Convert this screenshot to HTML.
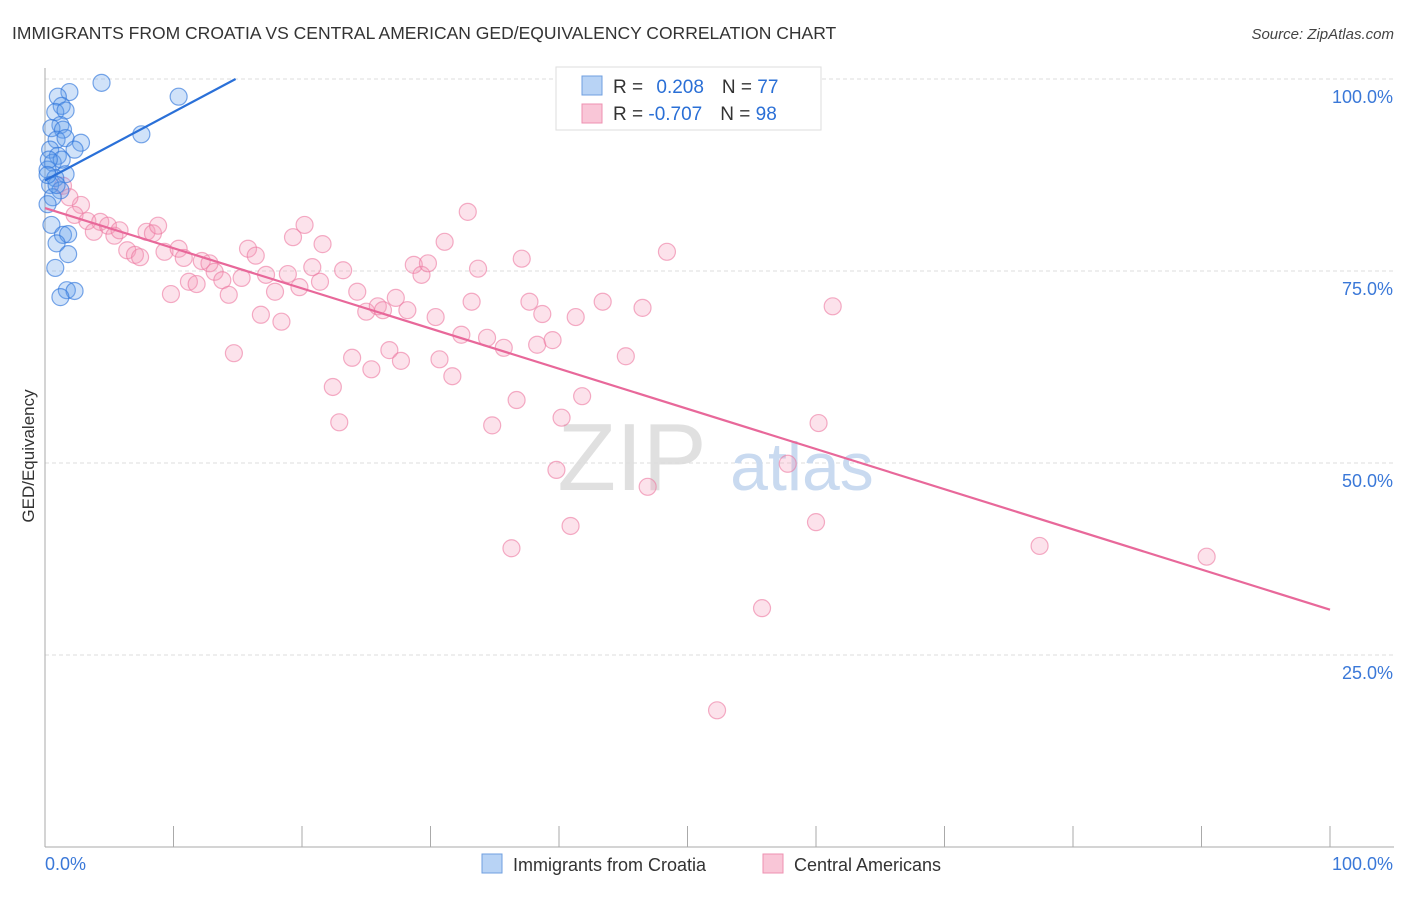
<!DOCTYPE html>
<html><head><meta charset="utf-8"><style>
body{margin:0;background:#fff;font-family:"Liberation Sans",sans-serif;}
svg text{font-family:"Liberation Sans",sans-serif;}
</style></head><body>
<svg id="chart" width="1406" height="892" xmlns="http://www.w3.org/2000/svg">
<text x="12" y="39" font-size="17.5" fill="#333">IMMIGRANTS FROM CROATIA VS CENTRAL AMERICAN GED/EQUIVALENCY CORRELATION CHART</text>
<text x="1394" y="39" font-size="15" fill="#444" font-style="italic" text-anchor="end">Source: ZipAtlas.com</text>
<g id="grid"></g>
<g>
<text x="632" y="490" font-size="96" fill="#ddd" text-anchor="middle" font-family="Liberation Serif, serif" opacity="0.9">ZIP</text>
<text x="802" y="490" font-size="68" fill="#c9daf0" text-anchor="middle">atlas</text>
</g>
<g id="axes"></g>
<g id="marks"></g>
<text transform="translate(34,456) rotate(-90)" font-size="17" fill="#333" text-anchor="middle">GED/Equivalency</text>
<g>
<rect x="556" y="67" width="265" height="63" fill="#fff" stroke="#ddd"/>
<rect x="582" y="76" width="20" height="19" fill="#b8d3f5" stroke="#6f9fe0"/>
<rect x="582" y="104" width="20" height="19" fill="#f9c6d7" stroke="#ee90b0"/>
<text x="613" y="93" font-size="19" fill="#333">R = <tspan fill="#2a6fd6" dx="8">0.208</tspan><tspan fill="#333" dx="18">N = </tspan><tspan fill="#2a6fd6">77</tspan></text>
<text x="613" y="120" font-size="19" fill="#333">R = <tspan fill="#2a6fd6">-0.707</tspan><tspan fill="#333" dx="18">N = </tspan><tspan fill="#2a6fd6">98</tspan></text>
</g>
<g>
<rect x="482" y="854" width="20" height="19" fill="#b8d3f5" stroke="#6f9fe0"/>
<text x="513" y="871" font-size="18" fill="#333">Immigrants from Croatia</text>
<rect x="763" y="854" width="20" height="19" fill="#f9c6d7" stroke="#ee90b0"/>
<text x="794" y="871" font-size="18" fill="#333">Central Americans</text>
</g>
</svg>
<script>
const blueX=[4.4,10.4,7.5,1.9,1.0,1.3,0.8,1.6,1.2,0.5,1.4,0.9,1.6,2.8,2.3,0.4,1.0,0.6,1.3,0.2,1.6,0.8,0.4,1.2,0.6,0.2,0.5,1.4,1.8,0.9,1.8,0.8,1.7,2.3,1.2,0.9,0.3,0.2];
const blueY=[99.5,97.7,92.8,98.3,97.7,96.5,95.7,95.9,94.0,93.6,93.4,92.1,92.3,91.7,90.8,90.8,90.0,89.1,89.5,88.2,87.6,87.1,86.2,85.5,84.6,83.7,81.0,79.7,79.8,78.6,77.2,75.4,72.5,72.4,71.6,86.2,89.5,87.5];
const pinkX=[1.4,2.8,1.9,2.3,3.3,4.3,3.8,4.9,5.4,5.8,6.4,7.0,7.4,7.9,8.4,8.8,9.3,10.4,10.8,9.8,11.2,11.8,12.2,12.8,13.2,13.8,14.3,14.7,15.3,15.8,16.4,16.8,17.2,17.9,18.4,18.9,19.3,19.8,20.2,20.8,21.4,21.6,23.2,23.9,22.4,22.9,24.3,25.0,25.4,25.9,26.3,26.8,27.3,27.7,28.2,28.7,29.3,29.8,30.4,30.7,31.1,31.7,32.4,32.9,33.2,33.7,34.4,34.8,35.7,36.3,36.7,37.1,37.7,38.3,38.7,39.5,39.8,40.2,40.9,41.3,41.8,43.4,45.2,46.5,46.9,48.4,52.3,55.8,57.8,60.0,60.2,61.3,77.4,90.4];
const pinkY=[86.1,83.6,84.6,82.3,81.5,81.4,80.1,80.9,79.6,80.3,77.7,77.1,76.8,80.1,79.9,80.9,77.5,77.9,76.7,72.0,73.6,73.3,76.3,76.0,74.9,73.8,71.9,64.3,74.1,77.9,77.0,69.3,74.5,72.3,68.4,74.6,79.4,72.9,81.0,75.5,73.6,78.5,75.1,63.7,59.9,55.3,72.3,69.7,62.2,70.4,69.9,64.7,71.5,63.3,69.9,75.8,74.5,76.0,69.0,63.5,78.8,61.3,66.7,82.7,71.0,75.3,66.3,54.9,65.0,38.9,58.2,76.6,71.0,65.4,69.4,66.0,49.1,55.9,41.8,69.0,58.7,71.0,63.9,70.2,46.9,77.5,17.8,31.1,49.9,42.3,55.2,70.4,39.2,37.8];
const blueTrend=[86.8,0.89];
const pinkTrend=[83.2,-0.523];
const yTicks=[25,50,75,100];
const yTickLabels=["25.0%","50.0%","75.0%","100.0%"];
const xTicks=[0,10,20,30,40,50,60,70,80,90,100];

const NS="http://www.w3.org/2000/svg";
const X0=45,X1=1330,Y0=847,Y100=79;
const sx=v=>X0+(X1-X0)*v/100;
const sy=v=>Y0-(Y0-Y100)*v/100;
function mk(tag,attrs,parent){const e=document.createElementNS(NS,tag);for(const k in attrs)e.setAttribute(k,attrs[k]);parent.appendChild(e);return e;}
const grid=document.getElementById('grid'),axes=document.getElementById('axes'),marks=document.getElementById('marks');
yTicks.forEach((t,i)=>{
  const l=mk('line',{x1:X0,x2:1394,y1:sy(t),y2:sy(t),stroke:'#ddd','stroke-dasharray':'4,3'},grid);
  
  
  const tx=mk('text',{x:1393,y:sy(t)+24,'font-size':18,fill:'#3a78d8','text-anchor':'end'},axes);
  tx.textContent=yTickLabels[i];
  
  
});
const ax=mk('line',{x1:X0,x2:X0,y1:68,y2:Y0,stroke:'#aaa'},axes);


const bx=mk('line',{x1:X0,x2:1394,y1:Y0,y2:Y0,stroke:'#aaa'},axes);


xTicks.forEach(t=>{
  const l=mk('line',{x1:sx(t),x2:sx(t),y1:826,y2:Y0,stroke:'#aaa'},axes);
  
  
});
const xl0=mk('text',{x:45,y:870,'font-size':18,fill:'#3a78d8'},axes);xl0.textContent='0.0%';


const xl1=mk('text',{x:1393,y:870,'font-size':18,fill:'#3a78d8','text-anchor':'end'},axes);xl1.textContent='100.0%';



pinkX.forEach((x,i)=>{
  const c=mk('circle',{cx:sx(x),cy:sy(pinkY[i]),r:8.5,fill:'rgba(244,150,182,0.28)',stroke:'rgba(236,120,160,0.6)','stroke-width':1.2},marks);
  
  
});
blueX.forEach((x,i)=>{
  const c=mk('circle',{cx:sx(x),cy:sy(blueY[i]),r:8.5,fill:'rgba(100,160,235,0.3)',stroke:'rgba(50,120,220,0.65)','stroke-width':1.2},marks);
  
  
});
const bEnd=(100-blueTrend[0])/blueTrend[1];
const bl=mk('line',{x1:sx(0),y1:sy(blueTrend[0]),x2:sx(bEnd),y2:sy(100),stroke:'#2a70d8','stroke-width':2.2},marks);


const pl=mk('line',{x1:sx(0),y1:sy(pinkTrend[0]),x2:sx(100),y2:sy(pinkTrend[0]+pinkTrend[1]*100),stroke:'#e8689a','stroke-width':2.2},marks);


</script>
</body></html>
